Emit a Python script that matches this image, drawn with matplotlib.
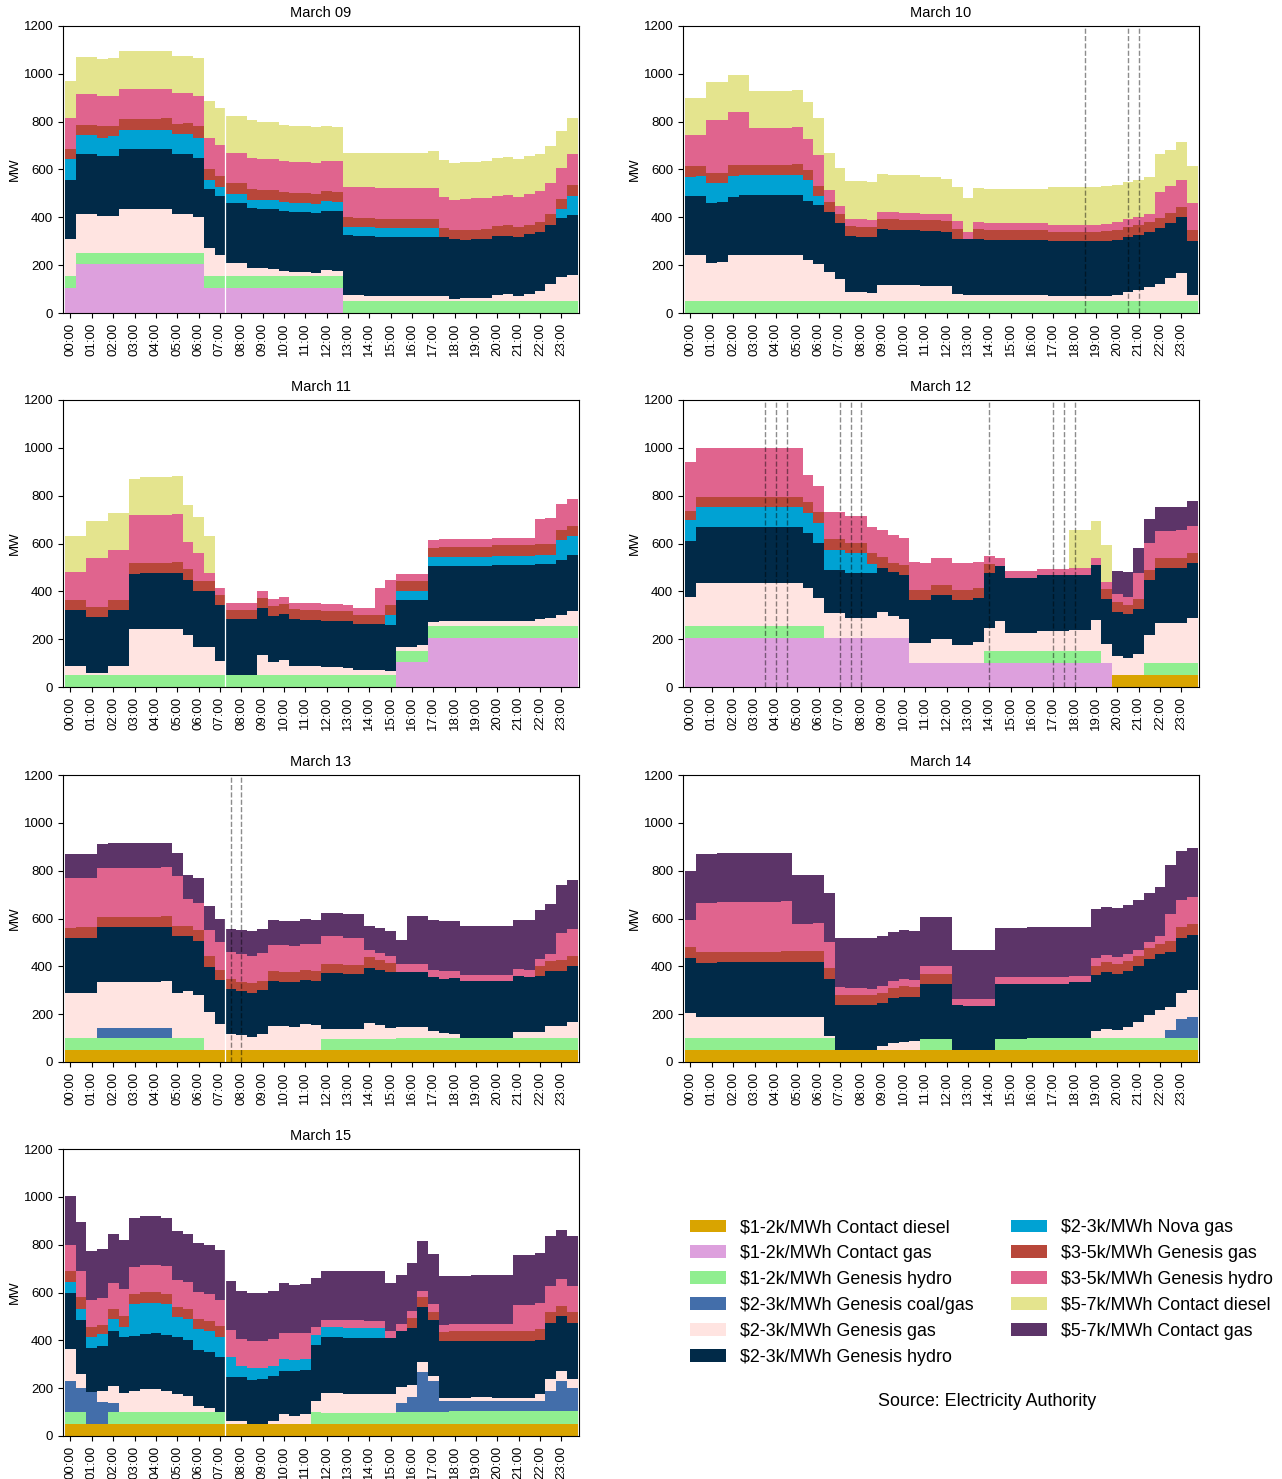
import matplotlib

matplotlib.use("Agg")
import matplotlib.pyplot as plt
import numpy as np
from matplotlib.patches import Patch

plt.rcParams["font.family"] = ["Liberation Sans", "DejaVu Sans"]

# offer tranches, bottom of the stack first
SERIES = [
    ("cd1", r"\$1-2k/MWh Contact diesel", "#d9a400"),
    ("cg1", r"\$1-2k/MWh Contact gas", "#dda0dd"),
    ("gh1", r"\$1-2k/MWh Genesis hydro", "#90ee90"),
    ("gcg2", r"\$2-3k/MWh Genesis coal/gas", "#436eaa"),
    ("gg2", r"\$2-3k/MWh Genesis gas", "#ffe4e1"),
    ("gh2", r"\$2-3k/MWh Genesis hydro", "#012a48"),
    ("ng2", r"\$2-3k/MWh Nova gas", "#00a2d3"),
    ("gg3", r"\$3-5k/MWh Genesis gas", "#b8473a"),
    ("gh3", r"\$3-5k/MWh Genesis hydro", "#e0648e"),
    ("cd5", r"\$5-7k/MWh Contact diesel", "#e4e48e"),
    ("cg5", r"\$5-7k/MWh Contact gas", "#5c3468"),
]

HOUR_LABELS = [f"{h:02d}:00" for h in range(24)]

# MW per half-hour trading period, 00:00 .. 23:30
MAR09 = {
    "cg1": [103, 205, 205, 205, 205, 205, 205, 205, 205, 205, 205, 205, 205, 103, 103, 103,
            103, 103, 103, 103, 103, 103, 103, 103, 103, 103, 0, 0, 0, 0, 0, 0,
            0, 0, 0, 0, 0, 0, 0, 0, 0, 0, 0, 0, 0, 0, 0, 0],
    "gh1": [50, 45, 45, 45, 45, 45, 45, 45, 45, 45, 45, 45, 45, 50, 50, 50,
            50, 50, 50, 50, 50, 50, 50, 50, 50, 50, 50, 50, 50, 50, 50, 50,
            50, 50, 50, 50, 50, 50, 50, 50, 50, 50, 50, 50, 50, 50, 50, 50],
    "gg2": [156, 162, 162, 155, 155, 184, 184, 184, 184, 184, 166, 166, 151, 117, 88, 57,
            57, 36, 36, 33, 23, 19, 19, 15, 27, 23, 25, 25, 22, 21, 21, 21,
            21, 21, 21, 21, 8, 11, 12, 12, 25, 28, 19, 30, 42, 72, 100, 110],
    "gh2": [249, 251, 251, 250, 250, 250, 250, 250, 250, 250, 250, 250, 248, 250, 249, 251,
            251, 248, 247, 247, 250, 250, 250, 250, 247, 249, 250, 248, 250, 248, 247, 247,
            247, 247, 247, 247, 250, 246, 249, 249, 245, 245, 250, 249, 248, 248, 248, 249],
    "ng2": [84, 81, 81, 78, 83, 83, 83, 83, 83, 83, 83, 83, 84, 38, 37, 36,
            36, 37, 38, 40, 39, 39, 39, 38, 42, 40, 34, 36, 37, 36, 37, 37,
            37, 37, 37, 0, 0, 0, 0, 0, 0, 0, 0, 0, 0, 0, 38, 79],
    "gg3": [42, 43, 43, 47, 42, 43, 43, 43, 43, 47, 42, 46, 47, 43, 46, 45,
            45, 45, 42, 43, 40, 40, 40, 41, 40, 40, 42, 38, 38, 39, 39, 39,
            39, 39, 39, 36, 40, 41, 37, 40, 43, 43, 40, 41, 42, 43, 40, 46],
    "gh3": [130, 127, 127, 127, 127, 128, 128, 128, 128, 124, 129, 125, 127, 129, 129, 129,
            129, 130, 129, 129, 129, 129, 129, 129, 125, 129, 125, 129, 129, 128, 128, 128,
            128, 128, 128, 129, 126, 128, 132, 129, 128, 129, 125, 129, 129, 129, 130, 129],
    "cd5": [156, 157, 157, 154, 158, 157, 157, 157, 157, 157, 155, 155, 158, 155, 155, 153,
            153, 156, 155, 155, 153, 152, 152, 152, 148, 144, 145, 144, 144, 148, 148, 148,
            148, 148, 154, 155, 154, 155, 151, 155, 155, 157, 158, 157, 152, 157, 157, 154],
}

MAR10 = {
    "gh1": [50, 50, 50, 50, 50, 50, 50, 50, 50, 50, 50, 50, 50, 50, 50, 50,
            50, 50, 50, 50, 50, 50, 50, 50, 50, 50, 50, 50, 50, 50, 50, 50,
            50, 50, 50, 50, 50, 50, 50, 50, 50, 50, 50, 50, 50, 50, 50, 50],
    "gg2": [191, 191, 161, 164, 191, 194, 194, 194, 194, 194, 194, 172, 153, 122, 92, 39,
            39, 35, 69, 68, 67, 67, 62, 62, 62, 28, 26, 26, 24, 24, 24, 24,
            24, 24, 21, 21, 21, 21, 21, 22, 25, 39, 46, 58, 72, 97, 119, 25],
    "gh2": [247, 247, 248, 249, 245, 248, 248, 248, 248, 248, 248, 247, 248, 250, 233, 233,
            229, 233, 231, 230, 230, 230, 232, 232, 228, 233, 232, 232, 231, 231, 231, 231,
            231, 231, 229, 229, 229, 229, 229, 230, 232, 229, 231, 229, 232, 228, 232, 227],
    "ng2": [81, 85, 85, 81, 87, 85, 85, 85, 85, 85, 85, 86, 37, 0, 0, 0,
            0, 0, 0, 0, 0, 0, 0, 0, 0, 0, 0, 0, 0, 0, 0, 0,
            0, 0, 0, 0, 0, 0, 0, 0, 0, 0, 0, 0, 0, 0, 0, 0],
    "gg3": [44, 41, 43, 43, 44, 42, 42, 42, 42, 42, 45, 42, 43, 44, 41, 41,
            43, 43, 42, 44, 43, 43, 44, 44, 43, 39, 0, 42, 42, 42, 42, 42,
            42, 42, 40, 40, 40, 40, 40, 41, 38, 40, 41, 43, 44, 43, 41, 46],
    "gh3": [132, 131, 221, 221, 223, 221, 153, 153, 153, 153, 154, 130, 130, 48, 31, 32,
            32, 28, 32, 32, 30, 30, 28, 28, 31, 33, 29, 31, 30, 30, 30, 30,
            30, 30, 30, 30, 30, 30, 30, 30, 35, 34, 32, 32, 110, 113, 116, 110],
    "cd5": [153, 155, 159, 159, 157, 157, 156, 156, 156, 156, 156, 155, 156, 154, 159, 157,
            159, 159, 158, 154, 156, 156, 153, 153, 146, 143, 144, 141, 143, 143, 143, 143,
            143, 143, 155, 155, 155, 155, 155, 158, 155, 156, 156, 156, 156, 152, 155, 156],
}

MAR11 = {
    "cg1": [0, 0, 0, 0, 0, 0, 0, 0, 0, 0, 0, 0, 0, 0, 0, 0,
            0, 0, 0, 0, 0, 0, 0, 0, 0, 0, 0, 0, 0, 0, 0, 104,
            104, 104, 204, 204, 204, 204, 204, 204, 204, 204, 204, 204, 204, 204, 204, 204],
    "gh1": [50, 50, 50, 50, 50, 50, 50, 50, 50, 50, 50, 50, 50, 50, 50, 50,
            50, 50, 50, 50, 50, 50, 50, 50, 50, 50, 50, 50, 50, 50, 50, 45,
            45, 45, 49, 49, 49, 49, 49, 49, 49, 49, 49, 49, 49, 49, 49, 49],
    "gg2": [39, 39, 8, 8, 39, 39, 192, 192, 192, 192, 192, 168, 119, 119, 60, 0,
            0, 0, 85, 54, 62, 39, 39, 39, 35, 35, 29, 21, 21, 21, 17, 20,
            20, 25, 18, 23, 23, 23, 23, 23, 25, 25, 25, 25, 30, 35, 48, 65],
    "gh2": [233, 233, 234, 234, 233, 233, 230, 233, 233, 233, 233, 231, 234, 234, 233, 233,
            233, 233, 194, 192, 192, 197, 192, 192, 193, 193, 197, 192, 192, 192, 194, 196,
            196, 191, 236, 230, 230, 230, 230, 230, 234, 234, 234, 234, 231, 226, 228, 233],
    "ng2": [0, 0, 0, 0, 0, 0, 0, 0, 0, 0, 0, 0, 0, 0, 0, 0,
            0, 0, 0, 0, 0, 0, 0, 0, 0, 0, 0, 0, 0, 0, 40, 36,
            36, 36, 37, 39, 39, 39, 39, 39, 37, 37, 37, 37, 37, 37, 84, 80],
    "gg3": [42, 42, 44, 44, 42, 42, 45, 44, 44, 44, 46, 44, 40, 40, 43, 39,
            39, 39, 43, 44, 45, 42, 41, 41, 41, 41, 42, 40, 40, 40, 41, 43,
            43, 43, 38, 40, 40, 40, 40, 40, 44, 44, 44, 44, 45, 45, 43, 43],
    "gh3": [115, 115, 203, 203, 207, 207, 201, 201, 201, 201, 201, 113, 117, 32, 28, 31,
            31, 31, 29, 28, 27, 25, 28, 28, 27, 27, 26, 26, 26, 111, 107, 27,
            27, 27, 32, 33, 33, 33, 33, 33, 28, 28, 28, 28, 108, 111, 109, 114],
    "cd5": [154, 154, 157, 157, 155, 155, 153, 159, 159, 159, 159, 154, 151, 157, 0, 0,
            0, 0, 0, 0, 0, 0, 0, 0, 0, 0, 0, 0, 0, 0, 0, 0,
            0, 0, 0, 0, 0, 0, 0, 0, 0, 0, 0, 0, 0, 0, 0, 0],
}

MAR12 = {
    "cd1": [0, 0, 0, 0, 0, 0, 0, 0, 0, 0, 0, 0, 0, 0, 0, 0,
            0, 0, 0, 0, 0, 0, 0, 0, 0, 0, 0, 0, 0, 0, 0, 0,
            0, 0, 0, 0, 0, 0, 0, 0, 51, 51, 51, 51, 51, 51, 51, 51],
    "cg1": [204, 204, 204, 204, 204, 204, 204, 204, 204, 204, 204, 204, 204, 204, 204, 204,
            204, 204, 204, 204, 204, 101, 101, 101, 101, 101, 101, 101, 101, 101, 101, 101,
            101, 101, 101, 101, 101, 101, 101, 101, 0, 0, 0, 0, 0, 0, 0, 0],
    "gh1": [52, 52, 52, 52, 52, 52, 52, 52, 52, 52, 52, 52, 52, 0, 0, 0,
            0, 0, 0, 0, 0, 0, 0, 0, 0, 0, 0, 0, 49, 49, 49, 49,
            49, 49, 49, 49, 49, 49, 49, 0, 0, 0, 0, 50, 50, 50, 50, 50],
    "gg2": [122, 180, 180, 180, 180, 180, 180, 180, 180, 180, 180, 158, 116, 104, 104, 86,
            86, 86, 110, 93, 79, 81, 81, 99, 99, 75, 75, 89, 96, 126, 75, 75,
            75, 83, 83, 83, 88, 88, 131, 80, 77, 70, 89, 117, 166, 166, 168, 187],
    "gh2": [232, 233, 233, 233, 233, 233, 233, 233, 233, 233, 233, 230, 231, 182, 182, 185,
            185, 185, 185, 182, 185, 180, 180, 185, 185, 188, 188, 184, 229, 230, 231, 231,
            231, 234, 234, 234, 229, 229, 229, 187, 187, 185, 188, 231, 232, 232, 230, 229],
    "ng2": [87, 85, 85, 85, 85, 85, 85, 85, 85, 85, 85, 85, 83, 81, 81, 85,
            85, 39, 0, 0, 0, 0, 0, 0, 0, 0, 0, 0, 0, 0, 0, 0,
            0, 0, 0, 0, 0, 0, 0, 0, 0, 0, 0, 0, 0, 0, 0, 0],
    "gg3": [38, 40, 40, 40, 40, 40, 40, 40, 40, 40, 40, 43, 45, 46, 46, 44,
            44, 46, 44, 38, 44, 44, 44, 41, 41, 40, 40, 41, 40, 0, 0, 0,
            0, 0, 0, 0, 0, 0, 0, 42, 39, 38, 39, 40, 41, 41, 41, 44],
    "gh3": [205, 207, 207, 207, 207, 207, 207, 207, 207, 207, 207, 114, 111, 115, 115, 111,
            111, 111, 113, 118, 113, 115, 111, 115, 115, 113, 113, 109, 32, 32, 30, 30,
            30, 28, 28, 28, 32, 32, 30, 27, 33, 31, 111, 115, 111, 111, 116, 113],
    "cd5": [0, 0, 0, 0, 0, 0, 0, 0, 0, 0, 0, 0, 0, 0, 0, 0,
            0, 0, 0, 0, 0, 0, 0, 0, 0, 0, 0, 0, 0, 0, 0, 0,
            0, 0, 0, 0, 157, 157, 156, 156, 0, 0, 0, 0, 0, 0, 0, 0],
    "cg5": [0, 0, 0, 0, 0, 0, 0, 0, 0, 0, 0, 0, 0, 0, 0, 0,
            0, 0, 0, 0, 0, 0, 0, 0, 0, 0, 0, 0, 0, 0, 0, 0,
            0, 0, 0, 0, 0, 0, 0, 0, 99, 104, 104, 100, 103, 103, 97, 102],
}

MAR13 = {
    "cd1": [52, 52, 52, 52, 52, 52, 52, 52, 52, 52, 52, 52, 52, 52, 52, 52,
            52, 52, 52, 52, 52, 52, 50, 50, 52, 52, 52, 52, 52, 52, 52, 52,
            52, 52, 52, 52, 52, 52, 52, 52, 52, 52, 52, 52, 52, 52, 52, 52],
    "gh1": [48, 48, 48, 48, 48, 48, 48, 48, 48, 48, 48, 48, 48, 0, 0, 0,
            0, 0, 0, 0, 0, 0, 0, 0, 45, 45, 45, 45, 45, 45, 45, 48,
            48, 48, 48, 48, 48, 48, 48, 48, 48, 48, 48, 48, 48, 48, 48, 48],
    "gcg2": [0, 0, 0, 43, 43, 43, 43, 43, 43, 43, 0, 0, 0, 0, 0, 0,
             0, 0, 0, 0, 0, 0, 0, 0, 0, 0, 0, 0, 0, 0, 0, 0,
             0, 0, 0, 0, 0, 0, 0, 0, 0, 0, 0, 0, 0, 0, 0, 0],
    "gg2": [187, 190, 190, 190, 190, 190, 190, 190, 190, 196, 190, 196, 179, 159, 105, 65,
            59, 54, 65, 99, 98, 95, 108, 104, 42, 42, 39, 39, 67, 56, 47, 46,
            46, 46, 28, 21, 19, 0, 0, 0, 0, 0, 26, 26, 26, 51, 51, 69],
    "gh2": [232, 230, 230, 231, 231, 231, 231, 231, 231, 227, 235, 230, 229, 186, 187, 187,
            186, 183, 183, 187, 183, 188, 184, 184, 232, 232, 232, 232, 230, 233, 231, 229,
            229, 229, 226, 228, 232, 238, 238, 238, 238, 238, 232, 228, 232, 230, 230, 232],
    "gg3": [43, 45, 45, 44, 44, 44, 44, 44, 44, 46, 43, 43, 45, 45, 42, 41,
            38, 41, 40, 42, 42, 40, 43, 42, 39, 39, 37, 37, 43, 39, 40, 0,
            0, 0, 0, 0, 0, 0, 0, 0, 0, 0, 0, 0, 42, 41, 44, 42],
    "gh3": [206, 205, 205, 205, 205, 205, 205, 205, 205, 205, 210, 112, 112, 112, 115, 113,
            117, 115, 115, 110, 113, 112, 110, 115, 115, 115, 115, 115, 31, 30, 28, 33,
            33, 33, 31, 31, 29, 24, 24, 24, 24, 24, 32, 32, 32, 30, 113, 112],
    "cg5": [102, 100, 100, 97, 102, 102, 102, 102, 102, 98, 97, 102, 103, 100, 98, 100,
            101, 103, 100, 105, 102, 103, 103, 100, 100, 100, 100, 100, 100, 105, 105, 102,
            204, 204, 210, 208, 208, 206, 206, 206, 206, 206, 203, 207, 203, 208, 204, 205],
}

MAR14 = {
    "cd1": [52, 52, 52, 52, 52, 52, 52, 52, 52, 52, 52, 52, 52, 52, 52, 52,
            52, 52, 52, 52, 52, 52, 52, 52, 52, 52, 52, 52, 52, 52, 52, 52,
            52, 52, 52, 52, 52, 52, 52, 52, 52, 52, 52, 52, 52, 52, 52, 52],
    "gh1": [48, 48, 48, 48, 48, 48, 48, 48, 48, 48, 48, 48, 48, 48, 0, 0,
            0, 0, 0, 0, 0, 0, 45, 45, 45, 0, 0, 0, 0, 45, 45, 45,
            48, 48, 48, 48, 48, 48, 48, 48, 48, 48, 48, 48, 48, 48, 48, 48],
    "gcg2": [0, 0, 0, 0, 0, 0, 0, 0, 0, 0, 0, 0, 0, 0, 0, 0,
             0, 0, 0, 0, 0, 0, 0, 0, 0, 0, 0, 0, 0, 0, 0, 0,
             0, 0, 0, 0, 0, 0, 0, 0, 0, 0, 0, 0, 0, 35, 80, 90],
    "gg2": [105, 87, 87, 87, 87, 87, 87, 87, 87, 90, 90, 90, 90, 10, 0, 0,
            0, 0, 13, 28, 33, 35, 0, 0, 0, 0, 0, 0, 0, 0, 0, 0,
            0, 0, 0, 0, 0, 0, 30, 40, 34, 45, 68, 98, 118, 93, 110, 110],
    "gh2": [230, 229, 229, 233, 233, 233, 233, 233, 233, 230, 230, 230, 230, 235, 188, 185,
            185, 185, 183, 187, 185, 183, 231, 231, 231, 185, 181, 181, 181, 231, 231, 231,
            228, 228, 228, 228, 233, 233, 232, 235, 234, 235, 232, 232, 232, 234, 230, 232],
    "gg3": [47, 44, 44, 42, 42, 42, 42, 42, 42, 45, 45, 45, 45, 47, 42, 45,
            45, 45, 42, 43, 47, 43, 42, 42, 42, 0, 0, 0, 0, 0, 0, 0,
            0, 0, 0, 0, 0, 0, 41, 43, 42, 42, 42, 45, 43, 43, 45, 46],
    "gh3": [111, 205, 205, 208, 208, 208, 208, 208, 208, 207, 113, 113, 115, 108, 30, 28,
            28, 25, 28, 30, 30, 30, 30, 30, 30, 25, 29, 29, 29, 27, 27, 27,
            29, 29, 29, 29, 27, 27, 32, 30, 30, 30, 28, 25, 32, 115, 113, 110],
    "cg5": [204, 203, 203, 203, 203, 203, 203, 203, 203, 201, 202, 202, 200, 207, 208, 207,
            207, 210, 210, 205, 205, 205, 208, 208, 208, 208, 205, 205, 205, 205, 207, 207,
            208, 208, 208, 208, 205, 205, 203, 202, 205, 203, 208, 207, 205, 202, 204, 205],
}

MAR15 = {
    "cd1": [52, 52, 52, 52, 52, 52, 52, 52, 52, 52, 52, 52, 52, 52, 52, 52,
            52, 52, 52, 52, 52, 52, 52, 52, 50, 50, 50, 50, 50, 50, 50, 52,
            52, 52, 52, 52, 52, 52, 52, 52, 52, 52, 52, 52, 52, 52, 52, 52],
    "gh1": [48, 48, 0, 0, 48, 48, 48, 48, 48, 48, 48, 48, 48, 48, 48, 0,
            0, 0, 0, 0, 0, 0, 0, 48, 47, 47, 45, 45, 45, 45, 47, 48,
            48, 48, 48, 48, 51, 51, 51, 51, 51, 51, 51, 51, 51, 51, 51, 51],
    "gcg2": [132, 100, 130, 91, 40, 0, 0, 0, 0, 0, 0, 0, 0, 0, 0, 0,
             0, 0, 0, 0, 0, 0, 0, 0, 0, 0, 0, 0, 0, 0, 0, 40,
             63, 168, 130, 45, 42, 42, 42, 42, 42, 42, 42, 42, 42, 87, 129, 97],
    "gg2": [133, 58, 0, 47, 67, 78, 90, 95, 95, 90, 77, 68, 25, 18, 0, 10,
            10, 0, 0, 10, 38, 33, 38, 48, 81, 81, 80, 80, 80, 80, 78, 65,
            52, 40, 20, 15, 15, 15, 20, 20, 15, 15, 15, 15, 30, 50, 38, 40],
    "gh2": [233, 229, 188, 188, 231, 234, 228, 232, 235, 232, 235, 232, 235, 235, 230, 186,
            183, 183, 188, 188, 182, 187, 185, 234, 235, 235, 235, 235, 233, 233, 233, 235,
            235, 232, 233, 237, 237, 237, 233, 233, 237, 237, 237, 237, 228, 233, 233, 233],
    "ng2": [45, 46, 45, 47, 50, 45, 132, 130, 127, 131, 85, 88, 88, 87, 85, 84,
            47, 48, 43, 42, 50, 46, 47, 41, 42, 42, 42, 42, 42, 42, 0, 0,
            0, 0, 0, 0, 0, 0, 0, 0, 0, 0, 0, 0, 0, 0, 0, 0],
    "gg3": [47, 47, 42, 40, 42, 46, 43, 46, 46, 42, 43, 42, 42, 42, 43, 0,
            0, 0, 0, 0, 0, 0, 0, 0, 0, 0, 0, 0, 0, 0, 0, 0,
            43, 43, 37, 38, 40, 40, 39, 39, 40, 40, 40, 40, 45, 45, 42, 45],
    "gh3": [110, 110, 111, 113, 110, 110, 114, 112, 112, 115, 112, 113, 112, 113, 112, 110,
            113, 115, 115, 113, 108, 112, 108, 32, 30, 30, 31, 31, 30, 30, 32, 28,
            29, 25, 30, 30, 30, 30, 31, 31, 31, 31, 111, 111, 110, 110, 113, 110],
    "cg5": [205, 205, 205, 202, 205, 207, 203, 205, 205, 200, 206, 202, 206, 202, 207, 206,
            203, 202, 202, 202, 208, 203, 207, 205, 205, 205, 205, 205, 208, 208, 200, 207,
            203, 207, 210, 205, 203, 203, 205, 205, 207, 207, 207, 207, 207, 207, 204, 207],
}

DAYS = [
    ("March 09", MAR09),
    ("March 10", MAR10),
    ("March 11", MAR11),
    ("March 12", MAR12),
    ("March 13", MAR13),
    ("March 14", MAR14),
    ("March 15", MAR15),
]

# trading periods flagged with dashed lines (hours)
FLAGGED = {
    "March 10": [18.5, 20.5, 21.0],
    "March 12": [3.5, 4.0, 4.5, 7.0, 7.5, 8.0, 14.0, 17.0, 17.5, 18.0],
    "March 13": [7.5, 8.0],
}
SEAM_DAYS = ["March 09", "March 11", "March 13", "March 15"]
SEAM_AT = 7.25

W, H = 1282, 1479
COL_X = [63, 683]
ROW_TOP = [26, 400, 775, 1149]
AX_W, AX_H = 516, 287

edges = np.arange(49) * 0.5 - 0.25

fig = plt.figure(figsize=(W / 100, H / 100), dpi=100)

for i, (title, day) in enumerate(DAYS):
    r, c = divmod(i, 2)
    ax = fig.add_axes([COL_X[c] / W, 1 - (ROW_TOP[r] + AX_H) / H, AX_W / W, AX_H / H])
    base = np.zeros(48)
    for key, label, color in SERIES:
        vals = np.asarray(day.get(key, np.zeros(48)), dtype=float)
        if vals.any():
            ax.stairs(base + vals, edges, baseline=base.copy(), fill=True,
                      color=color, linewidth=0)
        base = base + vals
    if title in SEAM_DAYS:
        ax.axvline(SEAM_AT, color="white", linewidth=0.9)
    for t in FLAGGED.get(title, []):
        ax.axvline(t, color="k", alpha=0.45, linestyle="--", linewidth=1.0)
    ax.set_xlim(-0.35, 23.82)
    ax.set_ylim(0, 1200)
    ax.set_yticks(range(0, 1201, 200))
    ax.set_xticks(range(24))
    ax.set_xticklabels(HOUR_LABELS, rotation=90)
    ax.tick_params(labelsize=9.5, length=3.5, width=0.8)
    ax.set_ylabel("MW", fontsize=9.5, labelpad=2)
    ax.set_title(title, fontsize=10.5, pad=6.5)

handles = [Patch(facecolor=color, edgecolor="none", label=label) for _, label, color in SERIES]
fig.legend(handles=handles, loc="upper left", bbox_to_anchor=(690 / W, 1 - 1219 / H),
           ncol=2, frameon=False, fontsize=12.85, handlelength=2.0, handleheight=0.7,
           handletextpad=0.8, columnspacing=2.1, labelspacing=0.5,
           borderaxespad=0, borderpad=0)
fig.text(987 / W, 1 - 1402 / H, "Source: Electricity Authority", ha="center",
         va="center", fontsize=12.85)

fig.savefig("out.png", dpi=100)
